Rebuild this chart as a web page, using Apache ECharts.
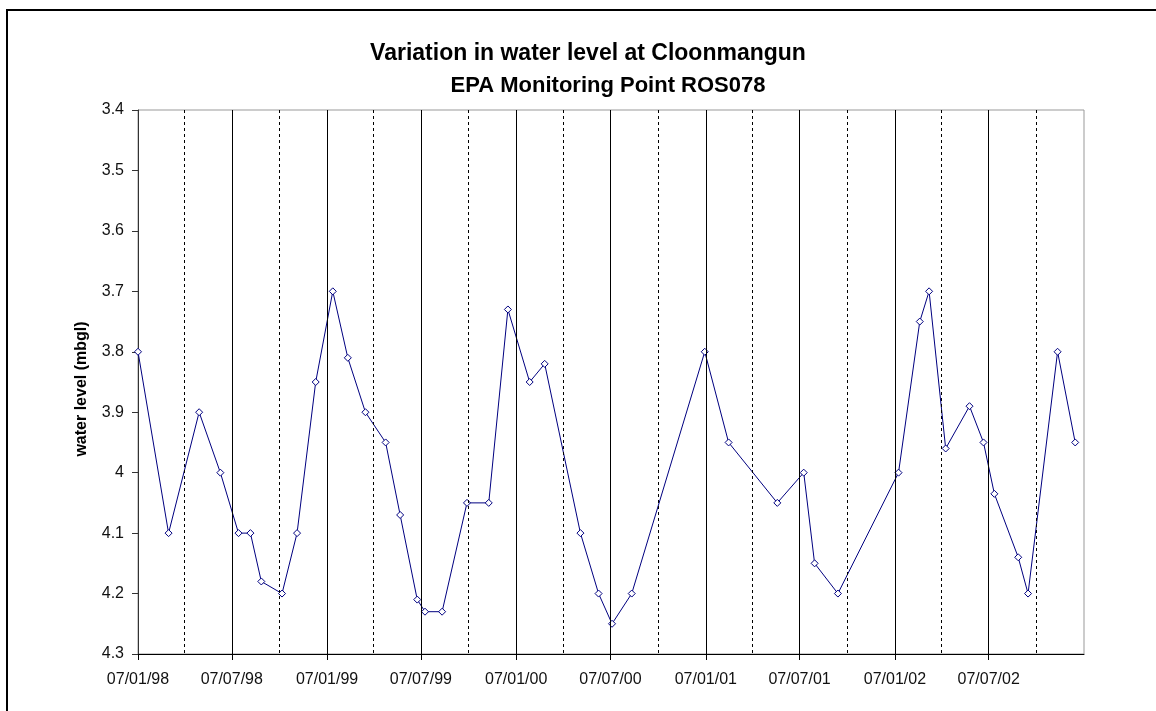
<!DOCTYPE html>
<html>
<head>
<meta charset="utf-8">
<script src="https://cdn.jsdelivr.net/npm/echarts@6/dist/echarts.min.js"></script>
<style>
  html, body { margin: 0; padding: 0; background: #fff; }
  #main { width: 1156px; height: 711px; }
</style>
</head>
<body>
<div id="main"></div>
<script>
// sample dates and water levels (mbgl)
let sampleDates = [
  "1998-01-07","1998-03-07","1998-05-05","1998-06-15","1998-07-20","1998-08-12",
  "1998-09-02","1998-10-12","1998-11-10","1998-12-16","1999-01-18","1999-02-16",
  "1999-03-22","1999-04-30","1999-05-28","1999-06-30","1999-07-15","1999-08-17",
  "1999-10-04","1999-11-15","1999-12-22","2000-02-02","2000-03-02","2000-05-10",
  "2000-06-14","2000-07-10","2000-08-17","2001-01-05","2001-02-20","2001-05-25",
  "2001-07-15","2001-08-05","2001-09-19","2002-01-14","2002-02-24","2002-03-14",
  "2002-04-15","2002-05-31","2002-06-27","2002-07-18","2002-09-02","2002-09-21",
  "2002-11-17","2002-12-21"
]
let waterLevel = [
  3.80, 4.10, 3.90, 4.00, 4.10, 4.10,
  4.18, 4.20, 4.10, 3.85, 3.70, 3.81,
  3.90, 3.95, 4.07, 4.21, 4.23, 4.23,
  4.05, 4.05, 3.73, 3.85, 3.82, 4.10,
  4.20, 4.25, 4.20, 3.80, 3.95, 4.05,
  4.00, 4.15, 4.20, 4.00, 3.75, 3.70,
  3.96, 3.89, 3.95, 4.035, 4.14, 4.20,
  3.80, 3.95
]

// axis ticks / grid lines (6-monthly major, 3-monthly minor)
let majorTicks = ["1998-01-07","1998-07-07","1999-01-07","1999-07-07","2000-01-07","2000-07-07",
                  "2001-01-07","2001-07-07","2002-01-07","2002-07-07"]
let minorTicks = ["1998-04-07","1998-10-07","1999-04-07","1999-10-07","2000-04-07","2000-10-07",
                  "2001-04-07","2001-10-07","2002-04-07","2002-10-07"]
let xMin = "1998-01-07"
let xMax = "2003-01-07"

function ts(s){ return +echarts.time.parse(s) }

var myChart = echarts.init(document.getElementById('main'));

let seriesData = sampleDates.map((d,i)=>[ts(d), waterLevel[i]])

var option = {
  backgroundColor: '#fff',
  animation: false,
  title: [
    {
      text: 'Variation in water level at Cloonmangun',
      left: 583, top: 37, textAlign: 'center',
      textStyle: { fontFamily: 'Liberation Sans', fontSize: 23, fontWeight: 'bold', color: '#000' }
    },
    {
      text: 'EPA Monitoring Point ROS078',
      left: 603, top: 70, textAlign: 'center',
      textStyle: { fontFamily: 'Liberation Sans', fontSize: 22, fontWeight: 'bold', color: '#000' }
    }
  ],
  graphic: [{
    type: 'rect',
    shape: { x: 7, y: 10, width: 1300, height: 900 },
    style: { fill: 'none', stroke: '#000', lineWidth: 2 },
    silent: true
  }],
  grid: {
    left: 138, top: 110, right: 72, bottom: 57,
    show: true, borderColor: '#999', borderWidth: 1, backgroundColor: '#fff'
  },
  xAxis: {
    type: 'value',
    min: ts(xMin), max: ts(xMax),
    axisLine: { lineStyle: { color: '#000', width: 1 } },
    axisTick: { show: true, length: 6, customValues: majorTicks.map(ts), lineStyle: { color: '#000' } },
    axisLabel: {
      customValues: majorTicks.map(ts),
      margin: 18,
      color: '#111',
      fontFamily: 'Liberation Sans',
      fontSize: 16,
      formatter: v => echarts.time.format(v, '{dd}/{MM}/{yy}', false)
    },
    splitLine: { show: false }
  },
  yAxis: {
    type: 'value',
    inverse: true,
    min: 3.4, max: 4.3, interval: 0.1,
    name: 'water level (mbgl)',
    nameLocation: 'middle',
    nameGap: 48,
    nameTextStyle: {
      fontFamily: 'Liberation Sans', fontSize: 16, fontWeight: 'bold', color: '#000',
      padding: [0, 14, 0, 0]
    },
    axisLine: { show: true, lineStyle: { color: '#333' } },
    axisTick: { show: true, length: 6, lineStyle: { color: '#333' } },
    axisLabel: {
      margin: 14, color: '#111', fontFamily: 'Liberation Sans', fontSize: 16,
      formatter: v => String(+v.toFixed(2))
    },
    splitLine: { show: false }
  },
  series: [
    {
      type: 'line',
      data: [],
      z: 1,
      silent: true,
      markLine: {
        silent: true,
        symbol: 'none',
        label: { show: false },
        animation: false,
        data: majorTicks.slice(1).map(d => ({ xAxis: ts(d), lineStyle: { color: '#000', width: 1, type: 'solid' } }))
          .concat(minorTicks.map(d => ({ xAxis: ts(d), lineStyle: { color: '#000', width: 1, type: [3, 3] } })))
      }
    },
    {
      name: 'water level',
      type: 'line',
      z: 3,
      data: seriesData,
      symbol: 'diamond',
      symbolSize: 7,
      showAllSymbol: true,
      lineStyle: { color: '#000080', width: 1 },
      itemStyle: { color: '#fff', borderColor: '#000080', borderWidth: 1 }
    }
  ]
};

myChart.setOption(option);
</script>
</body>
</html>
